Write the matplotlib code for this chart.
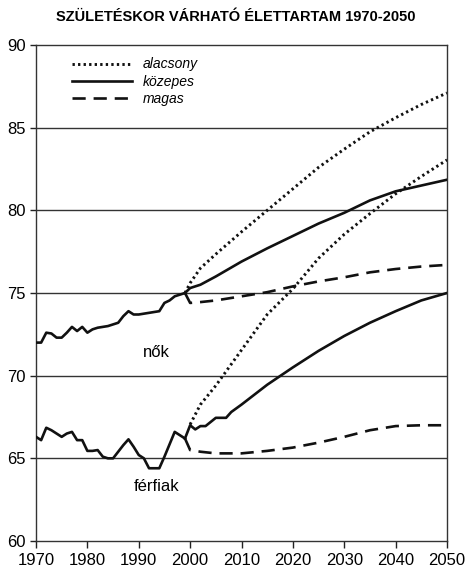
import matplotlib

matplotlib.use("Agg")

import matplotlib.pyplot as plt

plt.rcParams["font.family"] = ["Liberation Sans", "DejaVu Sans"]

# historical data 1970-1999
hist_years = list(range(1970, 2000))
women_hist = [72.0, 72.0, 72.6, 72.55, 72.3, 72.3, 72.6, 72.95, 72.7, 72.95,
              72.6, 72.8, 72.9, 72.95, 73.0, 73.1, 73.2, 73.6, 73.9, 73.7,
              73.7, 73.75, 73.8, 73.85, 73.9, 74.4, 74.55, 74.8, 74.9, 75.0]
men_hist = [66.3, 66.1, 66.85, 66.7, 66.5, 66.3, 66.5, 66.6, 66.1, 66.1,
            65.45, 65.45, 65.5, 65.1, 65.0, 65.0, 65.4, 65.8, 66.15, 65.7,
            65.2, 65.0, 64.4, 64.4, 64.4, 65.1, 65.85, 66.6, 66.4, 66.2]

# projections
proj_years = [1999, 2000, 2002, 2005, 2010, 2015, 2020, 2025, 2030, 2035, 2040, 2045, 2050]
women_low = [75.0, 75.6, 76.5, 77.35, 78.7, 80.0, 81.3, 82.6, 83.7, 84.75, 85.6, 86.4, 87.1]
women_mid = [75.0, 75.3, 75.5, 76.0, 76.9, 77.7, 78.45, 79.2, 79.85, 80.6, 81.15, 81.5, 81.85]
women_high = [75.0, 74.4, 74.45, 74.55, 74.8, 75.05, 75.4, 75.7, 75.95, 76.25, 76.45, 76.6, 76.7]

men_low_years = [2000, 2002, 2005, 2010, 2015, 2020, 2025, 2030, 2035, 2040, 2045, 2050]
men_low = [67.05, 68.25, 69.4, 71.55, 73.7, 75.25, 77.1, 78.55, 79.8, 81.0, 82.05, 83.05]
men_mid_years = [1999, 2000, 2001, 2002, 2003, 2004, 2005, 2006, 2007, 2008,
                 2010, 2015, 2020, 2025, 2030, 2035, 2040, 2045, 2050]
men_mid = [66.2, 67.0, 66.75, 66.95, 66.95, 67.2, 67.45, 67.45, 67.45, 67.8,
           68.25, 69.45, 70.5, 71.5, 72.4, 73.2, 73.9, 74.55, 75.0]
men_high = [66.2, 65.5, 65.4, 65.3, 65.3, 65.45, 65.65, 65.95, 66.3, 66.7, 66.95, 67.0, 67.0]

labels = ["alacsony", "közepes", "magas"]

LW = 1.9
DOT = dict(color="#111111", lw=2.1, linestyle=(0, (0.8, 1.1)), dash_capstyle="butt")
SOLID = dict(color="#111111", lw=LW, solid_joinstyle="round")
DASH = dict(color="#111111", lw=LW, linestyle=(0, (5.0, 3.0)))

fig = plt.figure(figsize=(4.72, 5.74), dpi=100)
ax = fig.add_axes([36 / 472, 1 - 541 / 574, 411 / 472, 496 / 574])

for y in [65, 70, 75, 80, 85]:
    ax.axhline(y, color="#333333", lw=1.0, zorder=1)

ax.plot(hist_years, women_hist, **SOLID, zorder=3)
ax.plot(hist_years, men_hist, **SOLID, zorder=3)

ax.plot(proj_years, women_low, **DOT, label=labels[0], zorder=3)
ax.plot(proj_years, women_mid, **SOLID, label=labels[1], zorder=3)
ax.plot(proj_years, women_high, **DASH, label=labels[2], zorder=3)

ax.plot(men_low_years, men_low, **DOT, zorder=3)
ax.plot(men_mid_years, men_mid, **SOLID, zorder=3)
ax.plot(proj_years, men_high, **DASH, zorder=3)

ax.text(1993.5, 71.4, "nők", fontsize=12, ha="center", va="center")
ax.text(1993.4, 63.3, "férfiak", fontsize=12, ha="center", va="center")

ax.set_xlim(1970, 2050)
ax.set_ylim(60, 90)
ax.set_xticks(range(1970, 2051, 10))
ax.set_yticks(range(60, 91, 5))
ax.tick_params(axis="both", labelsize=12, direction="out", length=5, width=1,
               colors="#222222", labelcolor="black")
ax.tick_params(axis="y", length=4)
for s in ax.spines.values():
    s.set_linewidth(1.0)
    s.set_color("#333333")

leg = ax.legend(loc="upper left", bbox_to_anchor=(0.088, 0.975), frameon=False,
                fontsize=10, handlelength=4.3, handletextpad=0.8, labelspacing=0.25,
                borderpad=0, borderaxespad=0)
for t in leg.get_texts():
    t.set_fontstyle("italic")

fig.text(0.5, 1 - 17 / 574, "SZÜLETÉSKOR VÁRHATÓ ÉLETTARTAM 1970-2050",
         ha="center", va="center", fontsize=10.5, fontweight="bold")

fig.savefig("out.png", dpi=100)
